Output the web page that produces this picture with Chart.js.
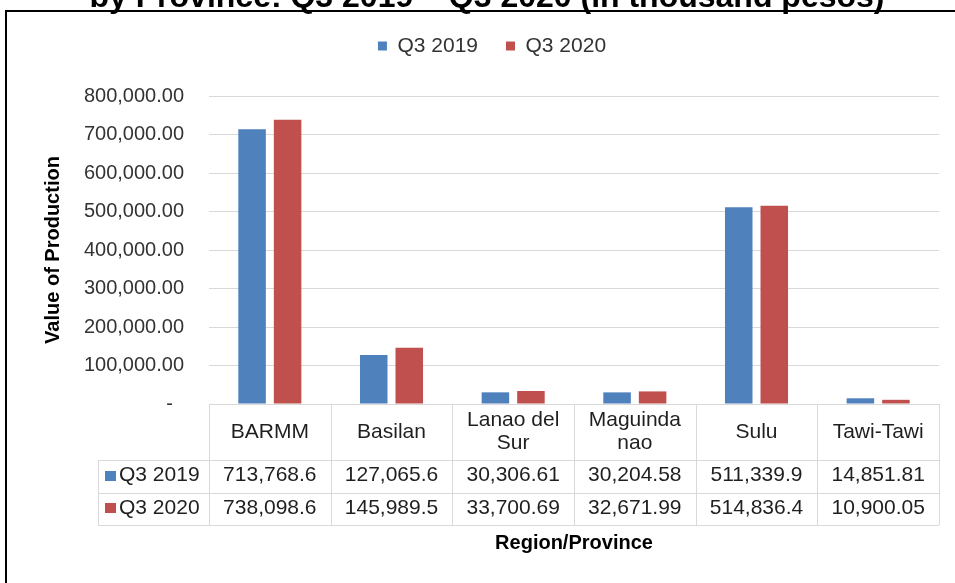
<!DOCTYPE html>
<html>
<head>
<meta charset="utf-8">
<title>Value of Production by Province</title>
<script src="https://cdn.jsdelivr.net/npm/chart.js@4.4.0/dist/chart.umd.min.js"></script>
<style>
    html, body { margin: 0; padding: 0; background: #fff; }
    #chart { display: block; }
</style>
</head>
<body>
<canvas id="chart" width="955" height="583"></canvas>
<script>
// Dados
const categories = ['BARMM', 'Basilan', ['Lanao del', 'Sur'], ['Maguinda', 'nao'], 'Sulu', 'Tawi-Tawi'];
const seriesNames = ['Q3 2019', 'Q3 2020'];
const q3_2019 = [713768.6, 127065.6, 30306.61, 30204.58, 511339.9, 14851.81];
const q3_2020 = [738098.6, 145989.5, 33700.69, 32671.99, 514836.4, 10900.05];
const seriesColors = ['#4F81BD', '#C0504D'];
const chartTitle = 'by Province: Q3 2019 \u2013 Q3 2020 (in thousand pesos)';
const yAxisTitle = 'Value of Production';
const xAxisTitle = 'Region/Province';

const FONT = "'Liberation Sans', Arial, sans-serif";
const TEXT_COLOR = '#1f1f1f';

// Empurra a área do gráfico para baixo da legenda
const legendSpacer = {
    id: 'legendSpacer',
    beforeInit(chart) {
        const originalFit = chart.legend.fit;
        chart.legend.fit = function fit() {
            originalFit.bind(chart.legend)();
            this.height += 29.5;
        };
    }
};

// Moldura e título cortado no topo
const frameAndTitle = {
    id: 'frameAndTitle',
    beforeDraw(chart) {
        const ctx = chart.ctx;
        ctx.save();
        ctx.fillStyle = '#fff';
        ctx.fillRect(0, 0, chart.width, chart.height);
        ctx.strokeStyle = '#000';
        ctx.lineWidth = 2;
        ctx.strokeRect(6, 11, chart.width + 10, chart.height + 10);
        ctx.fillStyle = '#000';
        ctx.font = 'bold 32px ' + FONT;
        ctx.textAlign = 'center';
        ctx.textBaseline = 'alphabetic';
        ctx.fillText(chartTitle, 487, 7);
        ctx.restore();
    }
};

// Tabela de dados abaixo do eixo X
const dataTable = {
    id: 'dataTable',
    afterDraw(chart) {
        const ctx = chart.ctx;
        const xScale = chart.scales.x;
        const area = chart.chartArea;
        const colW = (area.right - area.left) / categories.length;
        const top = Math.round(area.bottom);
        const rowHeader = top + 56;
        const row1 = rowHeader + 33;
        const row2 = row1 + 32;
        const labelLeft = 98;

        ctx.save();
        ctx.strokeStyle = '#d9d9d9';
        ctx.lineWidth = 1;

        // linhas horizontais
        const hLine = (y, x0, x1) => {
            ctx.beginPath();
            ctx.moveTo(x0, y + 0.5);
            ctx.lineTo(x1, y + 0.5);
            ctx.stroke();
        };
        hLine(top, area.left, area.right);
        hLine(rowHeader, labelLeft, area.right);
        hLine(row1, labelLeft, area.right);
        hLine(row2, labelLeft, area.right);

        // linhas verticais
        const vLine = (x, y0, y1) => {
            ctx.beginPath();
            ctx.moveTo(Math.round(x) + 0.5, y0);
            ctx.lineTo(Math.round(x) + 0.5, y1);
            ctx.stroke();
        };
        vLine(labelLeft, rowHeader, row2);
        for (let i = 0; i <= categories.length; i++) {
            vLine(area.left + i * colW, top, row2);
        }

        ctx.fillStyle = TEXT_COLOR;
        ctx.font = '21px ' + FONT;
        ctx.textAlign = 'center';
        ctx.textBaseline = 'middle';

        // cabeçalho com categorias
        categories.forEach((cat, i) => {
            const cx = xScale.getPixelForTick(i);
            const lines = Array.isArray(cat) ? cat : [cat];
            const mid = (top + rowHeader) / 2;
            lines.forEach((line, j) => {
                const y = mid + (j - (lines.length - 1) / 2) * 23;
                ctx.fillText(line, cx, y);
            });
        });

        // linhas de valores
        const rows = [[row1, rowHeader], [row2, row1]];
        chart.data.datasets.forEach((ds, k) => {
            const yMid = (rows[k][0] + rows[k][1]) / 2 - 1;
            ds.data.forEach((v, i) => {
                const cx = xScale.getPixelForTick(i);
                ctx.fillText(v.toLocaleString('en-US', { maximumFractionDigits: 2 }), cx, yMid);
            });
            // legenda dentro da tabela
            ctx.fillStyle = ds.backgroundColor;
            ctx.fillRect(105, Math.round(yMid - 5), 11, 10);
            ctx.fillStyle = TEXT_COLOR;
            ctx.textAlign = 'left';
            ctx.fillText(ds.label, 119, yMid);
            ctx.textAlign = 'center';
        });

        ctx.restore();
    }
};

const ctx = document.getElementById('chart').getContext('2d');
const chart = new Chart(ctx, {
    type: 'bar',
    data: {
        labels: categories,
        datasets: [
            { label: seriesNames[0], data: q3_2019, backgroundColor: seriesColors[0] },
            { label: seriesNames[1], data: q3_2020, backgroundColor: seriesColors[1] }
        ]
    },
    options: {
        responsive: false,
        animation: false,
        devicePixelRatio: 1,
        categoryPercentage: 0.584,
        barPercentage: 0.775,
        layout: { padding: { top: 7.5, left: 45, right: 16, bottom: 0 } },
        plugins: {
            legend: {
                position: 'top',
                labels: {
                    boxWidth: 9,
                    boxHeight: 9,
                    padding: 28,
                    color: '#333',
                    font: { family: FONT, size: 21 }
                }
            },
            tooltip: { enabled: false }
        },
        scales: {
            x: {
                grid: { display: false, drawTicks: false },
                border: { display: false },
                ticks: { display: false },
                title: {
                    display: true,
                    text: xAxisTitle,
                    color: '#000',
                    font: { family: FONT, size: 20, weight: 'bold' },
                    padding: { top: 0, bottom: 28 }
                },
                afterFit(scale) { scale.height = 179; }
            },
            y: {
                min: 0,
                max: 800000,
                grid: { color: '#d9d9d9', drawTicks: false },
                border: { display: false },
                ticks: {
                    stepSize: 100000,
                    padding: 25,
                    color: '#333',
                    font: { family: FONT, size: 20 },
                    callback: (v) => v === 0 ? '-  ' : v.toLocaleString('en-US', { minimumFractionDigits: 2 })
                },
                title: {
                    display: true,
                    text: yAxisTitle,
                    color: '#000',
                    font: { family: FONT, size: 20, weight: 'bold' },
                    padding: { top: -4, bottom: 0 }
                },
                afterFit(scale) { scale.width = 164; }
            }
        }
    },
    plugins: [legendSpacer, frameAndTitle, dataTable]
});
</script>
</body>
</html>
